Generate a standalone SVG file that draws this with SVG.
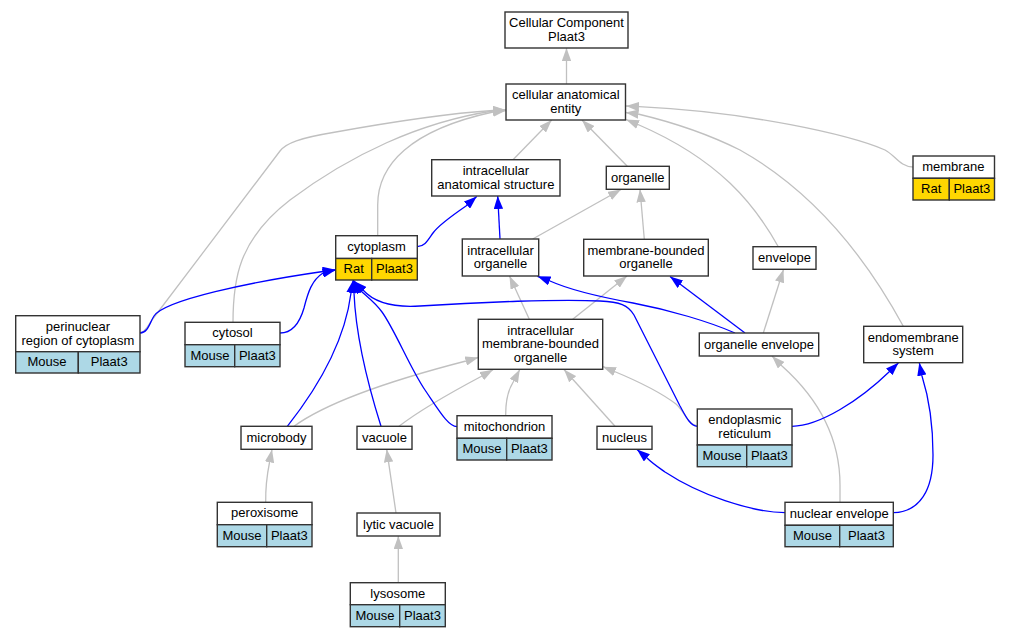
<svg xmlns="http://www.w3.org/2000/svg" width="1009" height="637" viewBox="0 0 1009 637">
<style>
.n{fill:#fff;stroke:#333;stroke-width:1.4}
.rat{fill:#ffd700;stroke:#333;stroke-width:1.4}
.mouse{fill:#add8e6;stroke:#333;stroke-width:1.4}
text{font-family:"Liberation Sans",Arial,sans-serif;font-size:13px;text-anchor:middle;fill:#000}
.g{fill:none;stroke:#c0c0c0;stroke-width:1.3;marker-end:url(#ag)}
.b{fill:none;stroke:#0000ff;stroke-width:1.3;marker-end:url(#ab)}
</style>
<defs>
<marker id="ag" viewBox="0 0 13 9.4" refX="13" refY="4.7" markerWidth="13" markerHeight="9.4" markerUnits="userSpaceOnUse" orient="auto"><path d="M0,0 L13,4.7 L0,9.4 z" fill="#c0c0c0"/></marker>
<marker id="ab" viewBox="0 0 13 9.4" refX="13" refY="4.7" markerWidth="13" markerHeight="9.4" markerUnits="userSpaceOnUse" orient="auto"><path d="M0,0 L13,4.7 L0,9.4 z" fill="#0000ff"/></marker>
</defs>
<rect width="1009" height="637" fill="#fff"/>
<g id="edges">
<path class="g" d="M566.5,84 L566.5,48"/>
<path class="g" d="M140.5,333 C145,332 148,326 152,320 L280,151 C286,143 300,138 333,132.5 C380,124 440,114 493,110.5 L506,110"/>
<path class="g" d="M233,322.3 C233,280 238,240 290,200 C350,155 420,122 493,111 L506,110"/>
<path class="g" d="M377.7,235.7 L377.7,205 C377.7,165 410,130 493,112 L506,110.5"/>
<path class="g" d="M513,159.7 L551.7,120"/>
<path class="g" d="M627.3,166.3 L582,120"/>
<path class="g" d="M913,167 C900,167 895,155 885,150 C850,135 750,112 639,106.7 L626,106"/>
<path class="g" d="M903.3,326.3 C870,265 820,195 740,150 C710,135 680,124 638,114 L625.5,112.5"/>
<path class="g" d="M778.3,246.7 C755,205 720,160 638,124.5 L626,119.5"/>
<path class="g" d="M532.7,239 L621,189.5"/>
<path class="g" d="M644.3,239.3 L640,189.3"/>
<path class="g" d="M529.3,319.3 L509.5,276"/>
<path class="g" d="M572.7,319.3 L627,276"/>
<path class="g" d="M763.3,333 L783.5,269.5"/>
<path class="g" d="M294,426.3 C330,400 400,378 466,361 L478.3,357.5"/>
<path class="g" d="M399,426.3 C420,410 450,393 482,376 L493,369.8"/>
<path class="g" d="M505.7,415.7 C505.5,400 508,390 513.5,381.5 L519.8,369.5"/>
<path class="g" d="M615,426.3 L564,369.5"/>
<path class="g" d="M697.3,426 C688,425 685,412 676,404 C660,392 635,380 614.5,371.5 L603,366.7"/>
<path class="g" d="M840,502.3 L840,485 C840,440 820,400 782,366 L772,356"/>
<path class="g" d="M265.7,502.3 C265.5,490 267,475 269.5,462.5 L272,449.5"/>
<path class="g" d="M396,513 L386.7,449.3"/>
<path class="g" d="M398.3,582.7 L398.3,536"/>
<path class="b" d="M417.3,246.7 C425,246.5 428,240 433,233 C438,226 450,217 466,206 L476.7,196.5"/>
<path class="b" d="M500,239 L497.7,196"/>
<path class="b" d="M140,333 C148,333 150,322 154,316 C165,300 250,282 323,271.5 L335.7,269.7"/>
<path class="b" d="M280,333 C293,333 300,322 304,308 C308,292 312,280 323,273 L335.5,270"/>
<path class="b" d="M287.3,426.3 C320,385 345,340 351,293 L353.3,280"/>
<path class="b" d="M381,426.3 C368,385 356,340 354,293 L353.5,280"/>
<path class="b" d="M457,426.7 C448,426 440,412 425,390 C410,368 395,330 382,312 C375,302 365,295 360,290 L353.5,281"/>
<path class="b" d="M697.3,426.3 C690,426 685,415 680,406 L634,315 C628,305 620,302 600,301 C560,299 480,302 420,306 C390,308 372,300 363,290 L354,281"/>
<path class="b" d="M735,333 C710,322 670,310 633,303 C600,297 570,290 550,281 L537.5,276.3"/>
<path class="b" d="M745,333 L670,276.5"/>
<path class="b" d="M792,426.3 C820,426 860,400 889,372 L898.5,362.7"/>
<path class="b" d="M893.3,512.7 C920,512 933,490 933,455 C933,420 928,395 922,376 L919.3,362.7"/>
<path class="b" d="M785,512.7 C750,512 700,495 665,472 C658,467 652,463 647,458 L637,449.5"/>
</g>
<g id="cellular_component"><rect class="n" x="505" y="12" width="123" height="36"/><text x="566.5" y="27.3">Cellular Component</text><text x="566.5" y="40.8">Plaat3</text></g>
<g id="cellular_anatomical_entity"><rect class="n" x="506" y="84" width="119.5" height="36"/><text x="565.8" y="99.3">cellular anatomical</text><text x="565.8" y="112.8">entity</text></g>
<g id="membrane"><rect class="n" x="913" y="156" width="81.5" height="22.3"/><rect class="rat" x="913" y="178.3" width="36.3" height="21.7"/><rect class="rat" x="949.3" y="178.3" width="45.2" height="21.7"/><text x="953.3" y="171">membrane</text><text x="931.2" y="193">Rat</text><text x="971.9" y="193">Plaat3</text></g>
<g id="intracellular_anatomical_structure"><rect class="n" x="431.7" y="159.7" width="128.3" height="36.3"/><text x="495.9" y="175.1">intracellular</text><text x="495.9" y="188.6">anatomical structure</text></g>
<g id="organelle"><rect class="n" x="606.3" y="166.3" width="63" height="23"/><text x="637.8" y="181.8">organelle</text></g>
<g id="cytoplasm"><rect class="n" x="335.7" y="235.7" width="81.6" height="22.8"/><rect class="rat" x="335.7" y="258.5" width="36" height="21.5"/><rect class="rat" x="371.7" y="258.5" width="45.6" height="21.5"/><text x="376.5" y="250.6">cytoplasm</text><text x="353.7" y="272.6">Rat</text><text x="394.5" y="272.6">Plaat3</text></g>
<g id="intracellular_organelle"><rect class="n" x="462.3" y="239" width="76.4" height="37"/><text x="500.5" y="254.8">intracellular</text><text x="500.5" y="268.3">organelle</text></g>
<g id="membrane_bounded_organelle"><rect class="n" x="583.7" y="239.3" width="124.6" height="36.7"/><text x="646" y="254.9">membrane-bounded</text><text x="646" y="268.4">organelle</text></g>
<g id="envelope"><rect class="n" x="753" y="246.7" width="63" height="22.6"/><text x="784.5" y="262">envelope</text></g>
<g id="intracellular_membrane_bounded_organelle"><rect class="n" x="478.3" y="319.3" width="124.4" height="50"/><text x="540.5" y="334.8">intracellular</text><text x="540.5" y="348.3">membrane-bounded</text><text x="540.5" y="361.8">organelle</text></g>
<g id="organelle_envelope"><rect class="n" x="699.3" y="333" width="119.4" height="23"/><text x="759" y="348.5">organelle envelope</text></g>
<g id="endomembrane_system"><rect class="n" x="863.7" y="326.3" width="99" height="36.4"/><text x="913.2" y="341.8">endomembrane</text><text x="913.2" y="355.3">system</text></g>
<g id="perinuclear_region"><rect class="n" x="15.7" y="315.7" width="124.3" height="36"/><rect class="mouse" x="15.7" y="351.7" width="62.6" height="21.3"/><rect class="mouse" x="78.3" y="351.7" width="61.7" height="21.3"/><text x="77.9" y="331">perinuclear</text><text x="77.9" y="344.5">region of cytoplasm</text><text x="47" y="366.2">Mouse</text><text x="109.2" y="366.2">Plaat3</text></g>
<g id="cytosol"><rect class="n" x="185" y="322.3" width="95" height="22.4"/><rect class="mouse" x="185" y="344.7" width="49.7" height="22"/><rect class="mouse" x="234.7" y="344.7" width="45.3" height="22"/><text x="232.5" y="337.3">cytosol</text><text x="209.9" y="359.5">Mouse</text><text x="257.4" y="359.5">Plaat3</text></g>
<g id="microbody"><rect class="n" x="241" y="426.3" width="71" height="23"/><text x="276.5" y="441.8">microbody</text></g>
<g id="vacuole"><rect class="n" x="357" y="426.3" width="55" height="23"/><text x="384.5" y="441.8">vacuole</text></g>
<g id="mitochondrion"><rect class="n" x="457" y="415.7" width="95" height="22.6"/><rect class="mouse" x="457" y="438.3" width="49.7" height="21.7"/><rect class="mouse" x="506.7" y="438.3" width="45.3" height="21.7"/><text x="504.5" y="430.8">mitochondrion</text><text x="481.9" y="453">Mouse</text><text x="529.4" y="453">Plaat3</text></g>
<g id="nucleus"><rect class="n" x="597" y="426.3" width="55" height="23"/><text x="624.5" y="441.8">nucleus</text></g>
<g id="endoplasmic_reticulum"><rect class="n" x="697.3" y="409" width="94.7" height="36"/><rect class="mouse" x="697.3" y="445" width="49.4" height="21.7"/><rect class="mouse" x="746.7" y="445" width="45.3" height="21.7"/><text x="744.7" y="424.3">endoplasmic</text><text x="744.7" y="437.8">reticulum</text><text x="722" y="459.7">Mouse</text><text x="769.4" y="459.7">Plaat3</text></g>
<g id="peroxisome"><rect class="n" x="217.3" y="502.3" width="94.7" height="22.4"/><rect class="mouse" x="217.3" y="524.7" width="49.4" height="22"/><rect class="mouse" x="266.7" y="524.7" width="45.3" height="22"/><text x="264.7" y="517.3">peroxisome</text><text x="242" y="539.5">Mouse</text><text x="289.4" y="539.5">Plaat3</text></g>
<g id="lytic_vacuole"><rect class="n" x="357" y="513" width="83" height="23"/><text x="398.5" y="528.5">lytic vacuole</text></g>
<g id="lysosome"><rect class="n" x="350.3" y="582.7" width="95" height="22"/><rect class="mouse" x="350.3" y="604.7" width="49.4" height="22"/><rect class="mouse" x="399.7" y="604.7" width="45.6" height="22"/><text x="397.8" y="597.5">lysosome</text><text x="375" y="619.5">Mouse</text><text x="422.5" y="619.5">Plaat3</text></g>
<g id="nuclear_envelope"><rect class="n" x="785" y="502.3" width="108.3" height="23"/><rect class="mouse" x="785" y="525.3" width="54.7" height="21.4"/><rect class="mouse" x="839.7" y="525.3" width="53.6" height="21.4"/><text x="839.2" y="517.6">nuclear envelope</text><text x="812.4" y="539.8">Mouse</text><text x="866.5" y="539.8">Plaat3</text></g>
</svg>
